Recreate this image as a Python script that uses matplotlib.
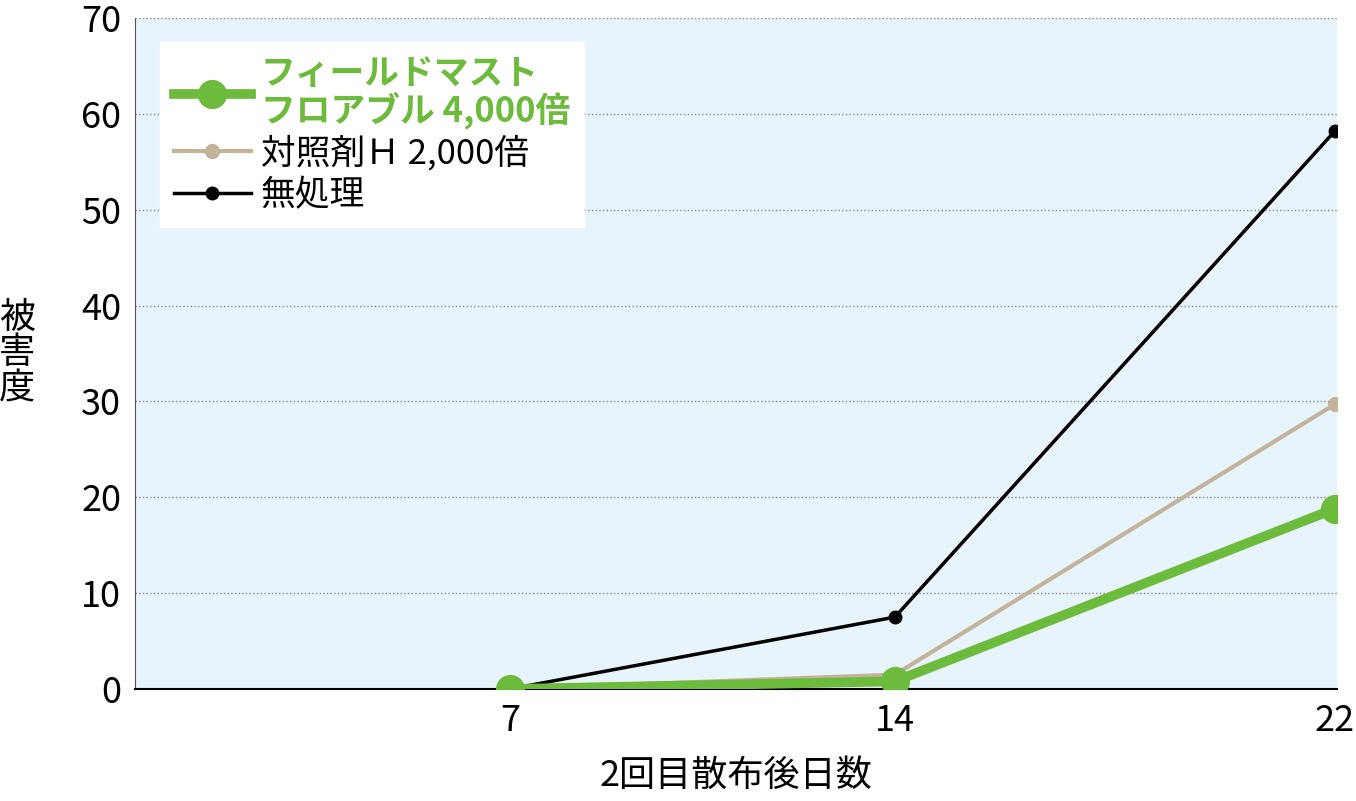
import matplotlib
matplotlib.use("Agg")
import matplotlib.pyplot as plt

plt.rcParams['font.family'] = ['Noto Sans CJK JP', 'DejaVu Sans']

days = [7, 14, 22]
green = [0, 0.8, 18.8]
beige = [0, 1.5, 29.7]
black = [0, 7.5, 58.2]
labels = ['フィールドマスト\nフロアブル 4,000倍', '対照剤Ｈ 2,000倍', '無処理']

fig = plt.figure(figsize=(13.56, 8.01), dpi=100)
ax = fig.add_axes([135/1356, 1-689/801, (1337-135)/1356, (689-18)/801])
ax.set_facecolor('#e8f4fb')
ax.plot(days, black, color='black', lw=2.5, marker='o', ms=9, label=labels[2], zorder=3)
ax.plot(days, beige, color='#c2b49c', lw=3, marker='o', ms=10, label=labels[1], zorder=3)
ax.plot(days, green, color='#6cbb3c', lw=7, marker='o', ms=20, label=labels[0], zorder=4)
ax.set_xlim(0.18, 22.04)
ax.set_ylim(0, 70)
ax.set_xticks(days)
ax.set_yticks(range(0, 71, 10))
ax.tick_params(labelsize=26, length=0, pad=10)
ax.yaxis.grid(True, linestyle=':', color='#888888', lw=1)
for s in ['top', 'right']:
    ax.spines[s].set_visible(False)
ax.spines['left'].set_color('#555555')
ax.spines['bottom'].set_color('black')
ax.spines['bottom'].set_linewidth(1.5)
ax.set_xlabel('2回目散布後日数', fontsize=26, labelpad=14)
ax.set_ylabel('被\n害\n度', fontsize=26, rotation=0, va='center', linespacing=1.0)
ax.yaxis.set_label_coords(-0.098, 0.5)
h, l = ax.get_legend_handles_labels()
leg = ax.legend(h[::-1], l[::-1], loc='upper left', bbox_to_anchor=(0.021, 0.964), borderaxespad=0,
                fontsize=25, frameon=True, fancybox=False, framealpha=1, edgecolor='white',
                handlelength=2.2, labelspacing=0.2, borderpad=0.4, handletextpad=0.3)
for t, c in zip(leg.get_texts(), ['#6cbb3c', 'black', 'black']):
    t.set_color(c)
    t.set_linespacing(1.0)
leg.get_texts()[0].set_fontweight('bold')
fig.savefig('out.png', dpi=100)
